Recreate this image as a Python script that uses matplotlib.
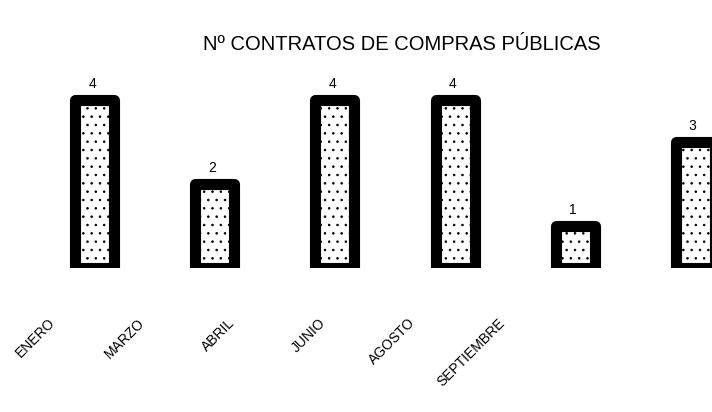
import matplotlib.pyplot as plt
import numpy as np

# data
meses = ['ENERO', 'MARZO', 'ABRIL', 'JUNIO', 'AGOSTO', 'SEPTIEMBRE']
contratos = [4, 2, 4, 4, 1, 3]
titulo = 'Nº CONTRATOS DE COMPRAS PÚBLICAS'

plt.rcParams['font.family'] = ['Liberation Sans', 'DejaVu Sans']
plt.rcParams['hatch.linewidth'] = 0.6

fig = plt.figure(figsize=(7.12, 4.12), dpi=100)
ax = fig.add_axes([0, 0.35, 1, 0.51])

x = np.arange(len(meses))
bars = ax.bar(x, contratos, width=0.325, color='white', edgecolor='black',
              linewidth=8, hatch='..', joinstyle='round')

for xi, v in zip(x, contratos):
    ax.annotate(str(v), (xi, v), xytext=(-2, 6), textcoords='offset points',
                ha='center', va='bottom', fontsize=10)

ax.set_xlim(-0.79, 5.14)
ax.set_ylim(0, 5)

# labels in the scan sit left of the bars and closer together
ax.set_xticks(0.75 * x - 0.35)
ax.set_xticklabels(meses, rotation=45, ha='right', va='center',
                   rotation_mode='anchor', fontsize=10)
ax.tick_params(axis='x', length=0, pad=38)
ax.set_yticks([])
for s in ax.spines.values():
    s.set_visible(False)

fig.text(0.565, 0.893, titulo, ha='center', va='center', fontsize=14.5)

fig.savefig('out.png', dpi=100)
